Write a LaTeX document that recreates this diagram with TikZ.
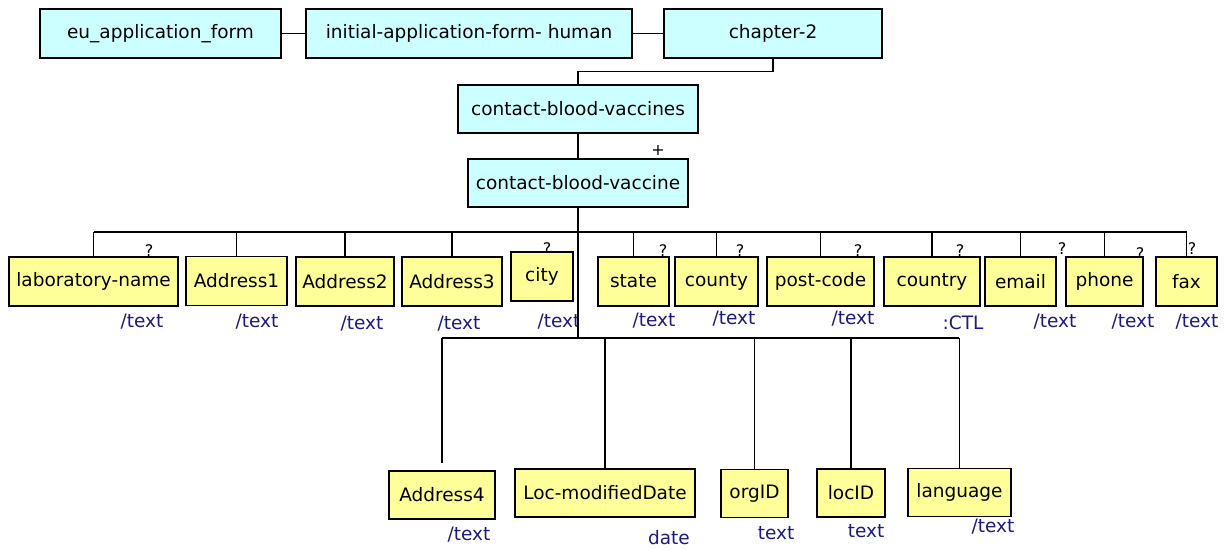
\documentclass[tikz,border=0pt]{standalone}
\usepackage{fontspec}
\setmainfont{DejaVu Sans}
\definecolor{cyanfill}{HTML}{CCFFFF}
\definecolor{yellowfill}{HTML}{FFFF99}
\definecolor{typeblue}{RGB}{26,26,128}
\tikzset{
  box/.style={draw=black, line width=1.5pt, inner sep=0pt, font=\fontsize{18.5}{21}\selectfont},
  cbox/.style={box, fill=cyanfill, minimum height=49pt},
  ybox/.style={box, fill=yellowfill, minimum height=49pt},
  tlabel/.style={text=typeblue, inner sep=0pt, font=\fontsize{18.5}{21}\selectfont},
  qmark/.style={text=black, inner sep=0pt, font=\fontsize{16}{18}\selectfont},
  thin/.style={draw=black, line width=1.5pt},
  thick/.style={draw=black, line width=2.8pt}
}
\begin{document}
\begin{tikzpicture}[x=1pt,y=-1pt]
\useasboundingbox (0,0) rectangle (1229,549);
% city part (partly covered later)
\node[qmark] (qcity) at (547,249) {?};
\node[ybox, minimum width=62pt] (city) at (542,276.5) {city};
\node[tlabel] (tcity) at (559,322) {/text};
\fill[white] (578,232) rectangle (860,338);
% coordinates for buses
\coordinate (busL) at (94,232);
\coordinate (busR) at (1187,232);
\coordinate (busA) at (237,232);
\coordinate (busB) at (1020,232);
\coordinate (hub) at (578,338);
\coordinate (lowL) at (442,338);
\coordinate (lowR) at (959,338);
\coordinate (lowM) at (851,338);
% question marks
\node[qmark] (q1) at (149,251) {?};
\node[qmark] (q2) at (663,251) {?};
\node[qmark] (q3) at (740,251) {?};
\node[qmark] (q4) at (858,251) {?};
\node[qmark] (q5) at (960,251) {?};
\node[qmark] (q6) at (1062,249) {?};
\node[qmark] (q7) at (1140,254) {?};
\node[qmark] (q8) at (1192,249) {?};
\node[qmark] (plus) at (658,150) {+};
% top row
\node[cbox, minimum width=241pt] (eu) at (160.5,33.5) {eu\_application\_form};
\node[cbox, minimum width=326pt] (init) at (469,33.5) {initial-application-form- human};
\node[cbox, minimum width=218pt] (ch2) at (773,33.5) {chapter-2};
\node[cbox, minimum width=240pt, minimum height=48pt] (cbvs) at (578,109) {contact-blood-vaccines};
\node[cbox, minimum width=220pt, minimum height=48pt] (cbv) at (578,183) {contact-blood-vaccine};
% second row
\node[ybox, minimum width=169pt] (lab) at (93.5,281.5) {laboratory-name};
\node[ybox, minimum width=101pt] (a1) at (236.5,281) {Address1};
\node[ybox, minimum width=98pt] (a2) at (345,281.5) {Address2};
\node[ybox, minimum width=100pt] (a3) at (452,281.5) {Address3};
\node[ybox, minimum width=71pt] (state) at (633.5,281.5) {state};
\node[ybox, minimum width=83pt] (county) at (716.5,281.5) {county};
\node[ybox, minimum width=107pt] (post) at (820.5,281.5) {post-code};
\node[ybox, minimum width=96pt] (country) at (932,281.5) {country};
\node[ybox, minimum width=71pt] (email) at (1020.5,281.5) {email};
\node[ybox, minimum width=77pt] (phone) at (1104.5,281.5) {phone};
\node[ybox, minimum width=61pt] (fax) at (1186.5,281.5) {fax};
% bottom row
\node[ybox, minimum width=106pt, minimum height=48pt] (a4) at (442,495) {Address4};
\node[ybox, minimum width=180pt, minimum height=48pt] (lmd) at (605,493) {Loc-modifiedDate};
\node[ybox, minimum width=67pt, minimum height=48pt] (org) at (754.5,493.5) {orgID};
\node[ybox, minimum width=68pt, minimum height=48pt] (loc) at (851,493) {locID};
\node[ybox, minimum width=103pt, minimum height=48pt] (lang) at (959.5,492.5) {language};
% type labels
\node[tlabel] (t1) at (142,322) {/text};
\node[tlabel] (t2) at (257,322) {/text};
\node[tlabel] (t3) at (362,324) {/text};
\node[tlabel] (t4) at (459,324) {/text};
\node[tlabel] (t5) at (654,321) {/text};
\node[tlabel] (t6) at (734,319) {/text};
\node[tlabel] (t7) at (853,319) {/text};
\node[tlabel] (t8) at (963,323) {:CTL};
\node[tlabel] (t9) at (1055,322) {/text};
\node[tlabel] (t10) at (1133,322) {/text};
\node[tlabel] (t11) at (1197,322) {/text};
\node[tlabel] (t12) at (469,535) {/text};
\node[tlabel] (t13) at (669,538) {date};
\node[tlabel] (t14) at (776,533) {text};
\node[tlabel] (t15) at (866,531) {text};
\node[tlabel] (t16) at (993,527) {/text};
% connectors
\draw[thin] (eu.east) -- (init.west);
\draw[thin] (init.east) -- (ch2.west);
\draw[thin] (ch2.south) -- ++(0,12.5) -| (cbvs.north);
\draw[thin] (cbvs.south) -- (cbv.north);
\draw[thick] (cbv.south) -- (hub);
\draw[thin] (busL) -- (busR);
\draw[thick] (busA) -- (busB);
\draw[thin] (lowL) -- (lowR);
\draw[thick] (hub) -- (lowM);
\foreach \n in {lab,a1,a2,a3,state,county,post,country,email,phone,fax}{
  \draw[thin] (\n.north) -- (\n.north |- busL);
}
\draw[thin] (lowL) -- ([yshift=7pt]a4.north);
\foreach \n in {lmd,org,loc,lang}{
  \draw[thin] (\n.north) -- (\n.north |- lowL);
}
\end{tikzpicture}
\end{document}
